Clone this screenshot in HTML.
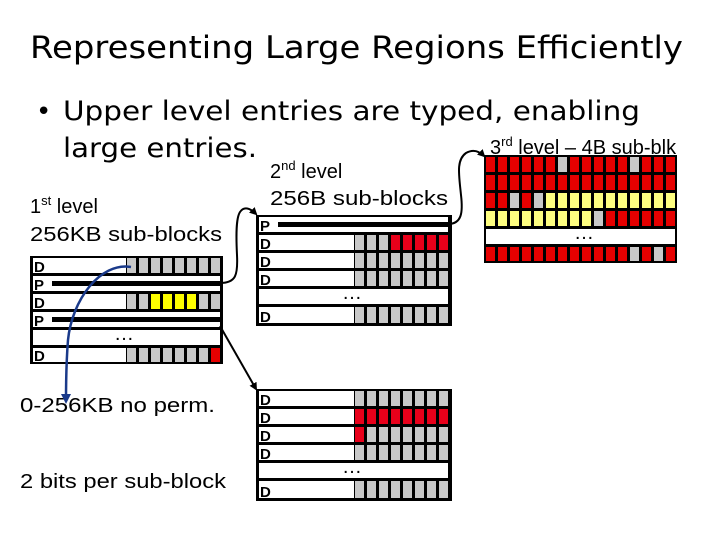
<!DOCTYPE html>
<html><head><meta charset="utf-8"><style>
html,body{margin:0;padding:0;background:#fff;width:720px;height:540px;overflow:hidden}
svg{display:block}
.lb{font-family:"Liberation Sans",sans-serif;font-size:20px;fill:#000}
.L{font-family:"Liberation Sans",sans-serif;font-weight:bold;font-size:15px;fill:#000}
.t{font-family:"DejaVu Sans",sans-serif;fill:#000}
</style></head><body>
<svg width="720" height="540" viewBox="0 0 720 540" xmlns="http://www.w3.org/2000/svg">
<defs>
<pattern id="g1" patternUnits="userSpaceOnUse" x="127" y="0" width="12" height="600"><rect width="9" height="600" fill="#c8c8c8"/><rect x="9" width="3" height="600" fill="#000"/></pattern>
<pattern id="g2" patternUnits="userSpaceOnUse" x="355" y="0" width="12" height="600"><rect width="9" height="600" fill="#c8c8c8"/><rect x="9" width="3" height="600" fill="#000"/></pattern>
<pattern id="r2" patternUnits="userSpaceOnUse" x="355" y="0" width="12" height="600"><rect width="9" height="600" fill="#e8001a"/><rect x="9" width="3" height="600" fill="#000"/></pattern>
<pattern id="r3" patternUnits="userSpaceOnUse" x="486" y="0" width="12" height="600"><rect width="9" height="600" fill="#e60000"/><rect x="9" width="3" height="600" fill="#000"/></pattern>
<pattern id="y3" patternUnits="userSpaceOnUse" x="486" y="0" width="12" height="600"><rect width="9" height="600" fill="#ffff80"/><rect x="9" width="3" height="600" fill="#000"/></pattern>
<marker id="ab" markerWidth="8" markerHeight="8" refX="6" refY="4" orient="auto" markerUnits="userSpaceOnUse"><path d="M0,0 L8,4 L0,8 z" fill="#000"/></marker>
<marker id="abb" markerWidth="10" markerHeight="10" refX="7" refY="5" orient="auto" markerUnits="userSpaceOnUse"><path d="M0,0 L10,5 L0,10 z" fill="#1a3a8a"/></marker>
</defs>

<!-- Title -->
<text class="t" x="30" y="58" font-size="31" textLength="653" lengthAdjust="spacingAndGlyphs">Representing Large Regions Efficiently</text>
<text class="t" x="36" y="120" font-size="26">•</text>
<text class="t" x="63" y="120" font-size="27" textLength="577" lengthAdjust="spacingAndGlyphs">Upper level entries are typed, enabling</text>
<text class="t" x="63" y="157" font-size="27" textLength="194" lengthAdjust="spacingAndGlyphs">large entries.</text>

<!-- labels -->
<text class="lb" x="30" y="213">1<tspan font-size="13" dy="-8">st</tspan><tspan dy="8"> level</tspan></text>
<text class="lb" x="30" y="241" textLength="192" lengthAdjust="spacingAndGlyphs">256KB sub-blocks</text>
<text class="lb" x="270" y="178">2<tspan font-size="13" dy="-8">nd</tspan><tspan dy="8"> level</tspan></text>
<text class="lb" x="270" y="205" textLength="178" lengthAdjust="spacingAndGlyphs">256B sub-blocks</text>
<text class="lb" x="490" y="154">3<tspan font-size="13" dy="-8">rd</tspan><tspan dy="8"> level – 4B sub-blk</tspan></text>
<text class="lb" x="20" y="412" textLength="195" lengthAdjust="spacingAndGlyphs">0-256KB no perm.</text>
<text class="lb" x="20" y="488" textLength="206" lengthAdjust="spacingAndGlyphs">2 bits per sub-block</text>

<!-- Level 1 table -->
<rect x="30" y="256" width="193" height="108" fill="#000"/>
<rect x="33" y="258" width="93" height="15" fill="#fff"/><rect x="127" y="258" width="93" height="15" fill="url(#g1)"/><text class="L" x="34" y="272">D</text>
<rect x="33" y="276" width="187" height="15" fill="#fff"/><rect x="52" y="281" width="168" height="5" fill="#000"/><text class="L" x="34" y="290">P</text>
<rect x="33" y="294" width="93" height="15" fill="#fff"/><rect x="127" y="294" width="93" height="15" fill="url(#g1)"/><text class="L" x="34" y="308">D</text>
<rect x="151" y="294" width="9" height="15" fill="#ffff00"/><rect x="163" y="294" width="9" height="15" fill="#ffff00"/><rect x="175" y="294" width="9" height="15" fill="#ffff00"/><rect x="187" y="294" width="9" height="15" fill="#ffff00"/>
<rect x="33" y="312" width="187" height="15" fill="#fff"/><rect x="52" y="317" width="168" height="5" fill="#000"/><text class="L" x="34" y="326">P</text>
<rect x="33" y="330" width="187" height="15" fill="#fff"/><text class="lb" x="114" y="340" font-size="16">…</text>
<rect x="33" y="348" width="93" height="14" fill="#fff"/><rect x="127" y="348" width="93" height="14" fill="url(#g1)"/><text class="L" x="34" y="361">D</text>
<rect x="211" y="348" width="9" height="14" fill="#e60000"/>

<!-- Level 2 top -->
<rect x="256" y="215" width="196" height="111" fill="#000"/>
<rect x="259" y="217" width="189" height="15" fill="#fff"/><rect x="278" y="222" width="170" height="5" fill="#000"/><text class="L" x="260" y="231">P</text>
<rect x="259" y="235" width="95" height="15" fill="#fff"/><rect x="355" y="235" width="93" height="15" fill="url(#g2)"/><text class="L" x="260" y="249">D</text>
<rect x="391" y="235" width="57" height="15" fill="url(#r2)"/>
<rect x="259" y="253" width="95" height="15" fill="#fff"/><rect x="355" y="253" width="93" height="15" fill="url(#g2)"/><text class="L" x="260" y="267">D</text>
<rect x="259" y="271" width="95" height="15" fill="#fff"/><rect x="355" y="271" width="93" height="15" fill="url(#g2)"/><text class="L" x="260" y="285">D</text>
<rect x="259" y="289" width="189" height="15" fill="#fff"/><text class="lb" x="342" y="299" font-size="16">…</text>
<rect x="259" y="307" width="95" height="16" fill="#fff"/><rect x="355" y="307" width="93" height="16" fill="url(#g2)"/><text class="L" x="260" y="322">D</text>

<!-- Level 2 bottom -->
<rect x="256" y="389" width="196" height="112" fill="#000"/>
<rect x="259" y="391" width="95" height="15" fill="#fff"/><rect x="355" y="391" width="93" height="15" fill="url(#g2)"/><text class="L" x="260" y="405">D</text>
<rect x="259" y="409" width="95" height="15" fill="#fff"/><rect x="355" y="409" width="93" height="15" fill="url(#r2)"/><text class="L" x="260" y="423">D</text>
<rect x="259" y="427" width="95" height="15" fill="#fff"/><rect x="355" y="427" width="93" height="15" fill="url(#g2)"/><text class="L" x="260" y="441">D</text>
<rect x="355" y="427" width="9" height="15" fill="#e8001a"/>
<rect x="259" y="445" width="95" height="15" fill="#fff"/><rect x="355" y="445" width="93" height="15" fill="url(#g2)"/><text class="L" x="260" y="459">D</text>
<rect x="259" y="463" width="189" height="15" fill="#fff"/><text class="lb" x="342" y="473" font-size="16">…</text>
<rect x="259" y="481" width="95" height="17" fill="#fff"/><rect x="355" y="481" width="93" height="17" fill="url(#g2)"/><text class="L" x="260" y="497">D</text>

<!-- Level 3 -->
<rect x="484" y="155" width="193" height="108" fill="#000"/>
<rect x="486" y="157" width="189" height="15" fill="url(#r3)"/>
<rect x="558" y="157" width="9" height="15" fill="#c8c8c8"/><rect x="630" y="157" width="9" height="15" fill="#c8c8c8"/>
<rect x="486" y="175" width="189" height="15" fill="url(#r3)"/>
<rect x="486" y="193" width="189" height="15" fill="url(#y3)"/>
<rect x="486" y="193" width="57" height="15" fill="url(#r3)"/>
<rect x="510" y="193" width="9" height="15" fill="#c8c8c8"/><rect x="534" y="193" width="9" height="15" fill="#c8c8c8"/>
<rect x="486" y="211" width="189" height="15" fill="url(#r3)"/>
<rect x="486" y="211" width="105" height="15" fill="url(#y3)"/>
<rect x="594" y="211" width="9" height="15" fill="#c8c8c8"/>
<rect x="486" y="229" width="189" height="15" fill="#fff"/><text class="lb" x="574" y="239" font-size="16">…</text>
<rect x="486" y="247" width="189" height="14" fill="url(#r3)"/>
<rect x="630" y="247" width="9" height="14" fill="#c8c8c8"/><rect x="654" y="247" width="9" height="14" fill="#c8c8c8"/>

<!-- connectors -->
<path d="M220,283 C236,283 238,275 237,255 C236,235 236,218 240,212 C244,206 250,208 256,214" fill="none" stroke="#000" stroke-width="2" marker-end="url(#ab)"/>
<path d="M220,326 L256,389" fill="none" stroke="#000" stroke-width="2" marker-end="url(#ab)"/>
<path d="M448,224 C462,224 463,212 461,195 C459,175 456,160 466,153 C473,149 479,151 484,156" fill="none" stroke="#000" stroke-width="2" marker-end="url(#ab)"/>
<path d="M131,267 C100,262 72,300 68,340 C66,365 66,385 66,401" fill="none" stroke="#1a3a8a" stroke-width="2.5" marker-end="url(#abb)"/>
</svg>
</body></html>
